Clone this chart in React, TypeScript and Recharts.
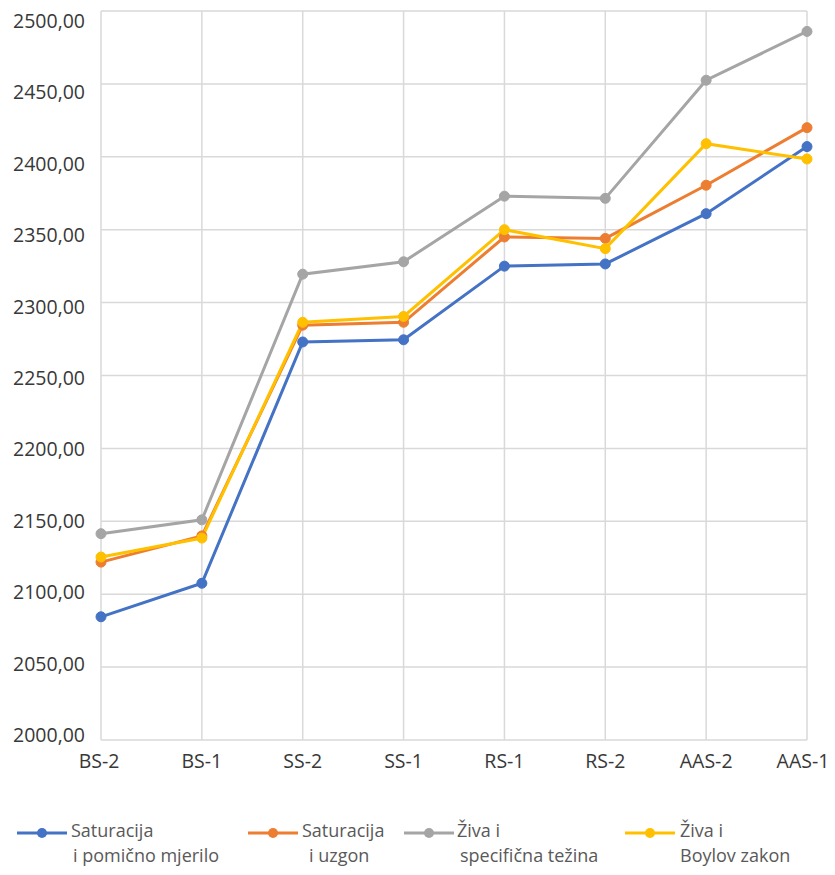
import React from 'react';
import { LineChart, Line, XAxis, YAxis, CartesianGrid, Legend } from 'recharts';

const categories = ['BS-2', 'BS-1', 'SS-2', 'SS-1', 'RS-1', 'RS-2', 'AAS-2', 'AAS-1'];
const satPomicno = [2084.5, 2107.5, 2273, 2274.5, 2325, 2326.5, 2361, 2407];
const satUzgon = [2122, 2140, 2284.5, 2286.5, 2345, 2344, 2380.5, 2420];
const zivaSpec = [2141.5, 2151, 2319.5, 2328, 2373, 2371.5, 2452.5, 2486];
const zivaBoyle = [2125.5, 2138.5, 2286.5, 2290.5, 2350, 2337, 2409, 2398.5];
const yTicks = [2000, 2050, 2100, 2150, 2200, 2250, 2300, 2350, 2400, 2450, 2500];

const seriesNames = [
  ['Saturacija', 'i pomično mjerilo'],
  ['Saturacija', 'i uzgon'],
  ['Živa i', 'specifična težina'],
  ['Živa i', 'Boylov zakon'],
];
const seriesColors = ['#4472C4', '#ED7D31', '#A5A5A5', '#FFC000'];

const data = categories.map((c, i) => ({
  name: c,
  s1: satPomicno[i],
  s2: satUzgon[i],
  s3: zivaSpec[i],
  s4: zivaBoyle[i],
}));

const FONT = '"Open Sans", sans-serif';

// legend layout (x of line start, text start, second line indent)
const legendLayout = [
  { lx: 9, tx: 63, t2: 65 },
  { lx: 240, tx: 294, t2: 301 },
  { lx: 396, tx: 449, t2: 452 },
  { lx: 617, tx: 672, t2: 672 },
];

const YTick = (props: any) => {
  const { x, y, payload } = props;
  const label = Number(payload.value).toFixed(2).replace('.', ',');
  const idx = yTicks.length - 1 - yTicks.indexOf(payload.value); // 0 at top
  const shift = 10 - 1.5 * idx;
  return (
    <text x={x} y={y} dy={7 + shift} textAnchor="end" fontFamily={FONT} fontSize={19.5} fontWeight={500} fill="#383838">
      {label}
    </text>
  );
};

const XTick = (props: any) => {
  const { x, y, payload, index } = props;
  const dx = index === categories.length - 1 ? -4 : index === 0 ? -2 : 0;
  return (
    <text x={x} y={y} dx={dx} dy={20} textAnchor="middle" fontFamily={FONT} fontSize={19.5} fontWeight={500} fill="#383838">
      {payload.value}
    </text>
  );
};

const renderLegend = () => (
  <svg width={827} height={75}>
    {legendLayout.map((l, i) => (
      <g key={i}>
        <line x1={l.lx} x2={l.lx + 50} y1={27} y2={27} stroke={seriesColors[i]} strokeWidth={3} />
        <circle cx={l.lx + 25} cy={27} r={5} fill={seriesColors[i]} />
        <text x={l.tx} y={31} fontFamily={FONT} fontSize={18} fill="#595959">{seriesNames[i][0]}</text>
        <text x={l.t2} y={56} fontFamily={FONT} fontSize={18} fill="#595959">{seriesNames[i][1]}</text>
      </g>
    ))}
  </svg>
);

export default function App() {
  const keys = ['s1', 's2', 's3', 's4'];
  return (
    <LineChart
      width={827}
      height={867}
      data={data}
      margin={{ top: 3, right: 28, left: 0, bottom: 105 }}
    >
      <CartesianGrid stroke="#D9D9D9" strokeWidth={1.5} vertical horizontal />
      <XAxis
        dataKey="name"
        scale="point"
        axisLine={false}
        tickLine={false}
        tick={<XTick />}
        interval={0}
        height={30}
      />
      <YAxis
        domain={[2000, 2500]}
        ticks={yTicks}
        axisLine={false}
        tickLine={false}
        tick={<YTick />}
        width={93}
        tickMargin={10}
        interval={0}
      />
      {keys.map((k, i) => (
        <Line
          key={k}
          dataKey={k}
          name={seriesNames[i].join(' ')}
          stroke={seriesColors[i]}
          strokeWidth={3}
          dot={{ r: 5, fill: seriesColors[i], stroke: seriesColors[i], strokeWidth: 1 }}
          isAnimationActive={false}
        />
      ))}
      <Legend
        layout="horizontal"
        verticalAlign="middle"
        align="center"
        content={renderLegend}
        wrapperStyle={{ position: 'absolute', left: 0, top: 798, width: 827, height: 75 }}
      />
    </LineChart>
  );
}
